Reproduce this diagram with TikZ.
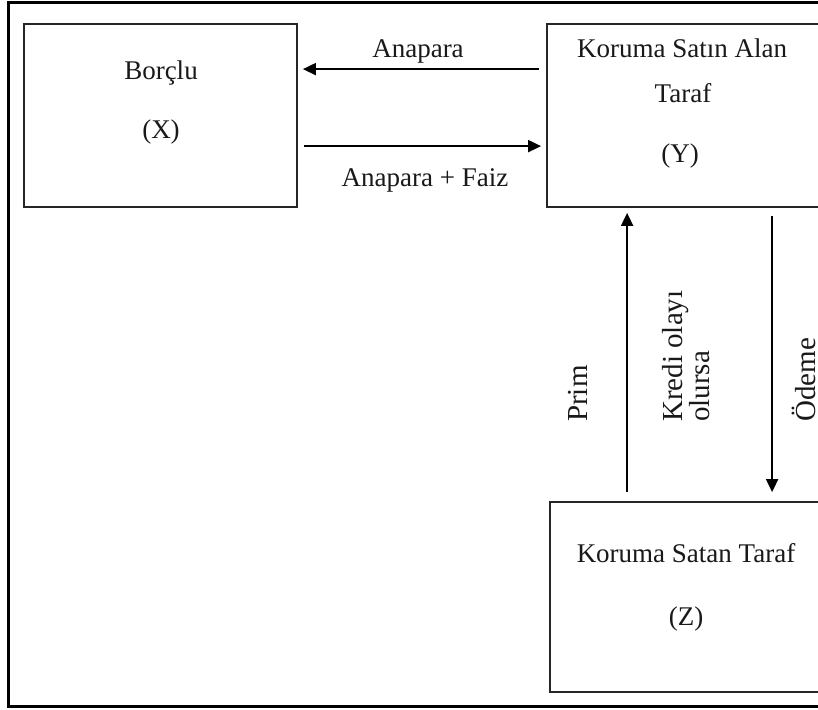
\documentclass[tikz,border=0pt]{standalone}
\usepackage{fontspec}
\setmainfont{Liberation Serif}
\usetikzlibrary{arrows.meta}
\begin{document}
\begin{tikzpicture}[x=1pt,y=-1pt,
  frame/.style={line width=3pt,black},
  party/.style={draw=black!85,line width=1.8pt,inner sep=0pt},
  txt/.style={inner sep=0pt,anchor=base,text=black!90,font=\fontsize{27}{32}\selectfont},
  vtxt/.style={inner sep=0pt,rotate=90,text=black!90,font=\fontsize{29}{26}\selectfont},
  flow/.style={line width=1.9pt,black,-{Triangle[length=13pt,width=12pt]}}]
\useasboundingbox (0,0) rectangle (818,709);
\clip (0,0) rectangle (818,709);
\fill[white] (0,0) rectangle (818,709);
% outer frame (open on the right)
\draw[frame] (8,2.5) rectangle (840,706);

% the three parties
\node[party,minimum width=273pt,minimum height=183pt] (X) at (160.5,115.5) {};
\node[party,minimum width=273pt,minimum height=183pt] (Y) at (683.5,115.5) {};
\node[party,minimum width=272pt,minimum height=190pt] (Z) at (686,597) {};

\node[txt] (xa) at (161,79) {Borçlu};
\node[txt] (xb) at (161,138) {(X)};
\node[txt] (ya) at (682,57) {Koruma Satın Alan};
\node[txt] (yb) at (683,102) {Taraf};
\node[txt] (yc) at (680,162) {(Y)};
\node[txt] (za) at (686,562) {Koruma Satan Taraf};
\node[txt] (zb) at (686,625) {(Z)};

% flows between borrower and protection buyer
\draw[flow] ([xshift=-7pt,yshift=-46pt]Y.north west) -- ([xshift=5pt,yshift=-46pt]X.north east);
\draw[flow] ([xshift=6pt,yshift=-123pt]X.north east) -- ([xshift=-5pt,yshift=-123pt]Y.north west);
\node[txt] (l1) at (418,58) {Anapara};
\node[txt] (l2) at (425,186) {Anapara + Faiz};

% flows between protection buyer and seller
\draw[flow] ([xshift=78pt,yshift=9pt]Z.north west) -- ([xshift=81pt,yshift=-5pt]Y.south west);
\draw[flow] ([xshift=226pt,yshift=-8pt]Y.south west) -- ([xshift=223pt,yshift=9pt]Z.north west);
\node[vtxt,anchor=base west] (l3) at (587,422) {Prim};
\node[vtxt,anchor=west,align=left] (l4) at (686,422) {Kredi olayı\\olursa};
\node[vtxt,anchor=base west] (l5) at (815,422) {Ödeme};
\end{tikzpicture}
\end{document}
